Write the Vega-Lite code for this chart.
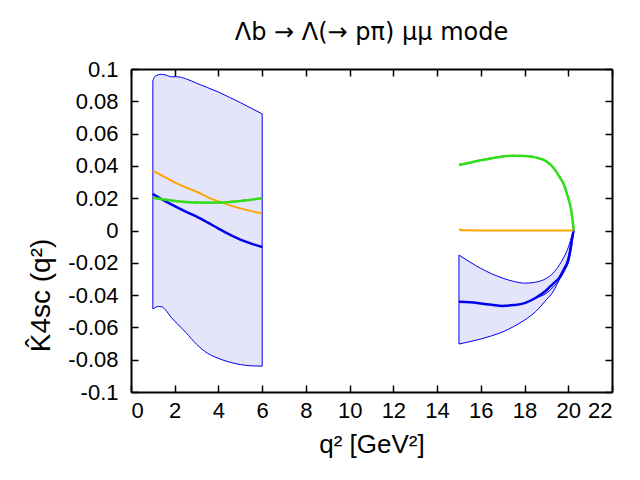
{
  "$schema": "https://vega.github.io/schema/vega-lite/v6.json",
  "description": "K4sc(q2) for Lambda_b -> Lambda(-> p pi) mu mu",
  "width": 481,
  "height": 323,
  "autosize": {"type": "none"},
  "padding": {"left": 131, "top": 69, "right": 28, "bottom": 88},
  "title": {
    "text": "Λb → Λ(→ pπ) μμ mode",
    "font": "DejaVu Sans",
    "fontSize": 24,
    "fontWeight": "normal",
    "color": "black",
    "anchor": "middle",
    "frame": "group",
    "baseline": "alphabetic",
    "offset": -6
  },
  "datasets": {
    "band": [
      {"seg": "low", "q": 1.0, "lo": -0.0486, "hi": 0.0928},
      {"seg": "low", "q": 1.1, "lo": -0.0478, "hi": 0.0955},
      {"seg": "low", "q": 1.25, "lo": -0.0470, "hi": 0.0964},
      {"seg": "low", "q": 1.4, "lo": -0.0472, "hi": 0.0967},
      {"seg": "low", "q": 1.6, "lo": -0.0495, "hi": 0.0962},
      {"seg": "low", "q": 1.85, "lo": -0.0540, "hi": 0.0952},
      {"seg": "low", "q": 2.1, "lo": -0.0575, "hi": 0.0952},
      {"seg": "low", "q": 2.5, "lo": -0.0630, "hi": 0.0940},
      {"seg": "low", "q": 3.0, "lo": -0.0705, "hi": 0.0912},
      {"seg": "low", "q": 3.5, "lo": -0.0760, "hi": 0.0885},
      {"seg": "low", "q": 4.0, "lo": -0.0792, "hi": 0.0857},
      {"seg": "low", "q": 4.5, "lo": -0.0815, "hi": 0.0825},
      {"seg": "low", "q": 5.0, "lo": -0.0830, "hi": 0.0792},
      {"seg": "low", "q": 5.5, "lo": -0.0838, "hi": 0.0757},
      {"seg": "low", "q": 6.0, "lo": -0.0840, "hi": 0.0722},
      {"seg": "high", "q": 15.0, "lo": -0.0703, "hi": -0.0152},
      {"seg": "high", "q": 15.5, "lo": -0.0688, "hi": -0.0195},
      {"seg": "high", "q": 16.0, "lo": -0.0672, "hi": -0.0235},
      {"seg": "high", "q": 16.5, "lo": -0.0652, "hi": -0.0268},
      {"seg": "high", "q": 17.0, "lo": -0.0628, "hi": -0.0295},
      {"seg": "high", "q": 17.5, "lo": -0.0595, "hi": -0.0315},
      {"seg": "high", "q": 18.0, "lo": -0.0555, "hi": -0.0326},
      {"seg": "high", "q": 18.5, "lo": -0.0503, "hi": -0.0320},
      {"seg": "high", "q": 19.0, "lo": -0.0428, "hi": -0.0296},
      {"seg": "high", "q": 19.3, "lo": -0.0380, "hi": -0.0265},
      {"seg": "high", "q": 19.6, "lo": -0.0300, "hi": -0.0212},
      {"seg": "high", "q": 19.8, "lo": -0.0235, "hi": -0.0165},
      {"seg": "high", "q": 20.0, "lo": -0.0160, "hi": -0.0105},
      {"seg": "high", "q": 20.1, "lo": -0.0090, "hi": -0.0062},
      {"seg": "high", "q": 20.2, "lo": -0.0030, "hi": -0.0018},
      {"seg": "high", "q": 20.25, "lo": 0.0, "hi": 0.0}
    ],
    "central": [
      {"seg": "low", "q": 1.0, "y": 0.0226},
      {"seg": "low", "q": 1.5, "y": 0.0187},
      {"seg": "low", "q": 2.0, "y": 0.0151},
      {"seg": "low", "q": 2.5, "y": 0.0117},
      {"seg": "low", "q": 3.0, "y": 0.0086},
      {"seg": "low", "q": 3.5, "y": 0.0050},
      {"seg": "low", "q": 4.0, "y": 0.0012},
      {"seg": "low", "q": 4.5, "y": -0.0024},
      {"seg": "low", "q": 5.0, "y": -0.0056},
      {"seg": "low", "q": 5.5, "y": -0.0081},
      {"seg": "low", "q": 6.0, "y": -0.0102},
      {"seg": "high", "q": 15.0, "y": -0.0441},
      {"seg": "high", "q": 15.5, "y": -0.0445},
      {"seg": "high", "q": 16.0, "y": -0.0452},
      {"seg": "high", "q": 16.5, "y": -0.0460},
      {"seg": "high", "q": 17.0, "y": -0.0467},
      {"seg": "high", "q": 17.5, "y": -0.0462},
      {"seg": "high", "q": 18.0, "y": -0.0450},
      {"seg": "high", "q": 18.5, "y": -0.0418},
      {"seg": "high", "q": 19.0, "y": -0.0370},
      {"seg": "high", "q": 19.3, "y": -0.0330},
      {"seg": "high", "q": 19.6, "y": -0.0290},
      {"seg": "high", "q": 19.8, "y": -0.0240},
      {"seg": "high", "q": 20.0, "y": -0.0185},
      {"seg": "high", "q": 20.1, "y": -0.0120},
      {"seg": "high", "q": 20.2, "y": -0.0030},
      {"seg": "high", "q": 20.25, "y": 0.0}
    ],
    "inner": [
      {"seg": "high", "q": 18.5, "y": -0.0418},
      {"seg": "high", "q": 19.0, "y": -0.0388},
      {"seg": "high", "q": 19.3, "y": -0.0352},
      {"seg": "high", "q": 19.6, "y": -0.0302},
      {"seg": "high", "q": 19.8, "y": -0.0258},
      {"seg": "high", "q": 20.0, "y": -0.0195},
      {"seg": "high", "q": 20.1, "y": -0.0135},
      {"seg": "high", "q": 20.2, "y": -0.0050},
      {"seg": "high", "q": 20.25, "y": 0.0}
    ],
    "orange": [
      {"seg": "low", "q": 1.0, "y": 0.0370},
      {"seg": "low", "q": 1.5, "y": 0.0333},
      {"seg": "low", "q": 2.0, "y": 0.0298},
      {"seg": "low", "q": 2.5, "y": 0.0267},
      {"seg": "low", "q": 3.0, "y": 0.0240},
      {"seg": "low", "q": 3.5, "y": 0.0207},
      {"seg": "low", "q": 4.0, "y": 0.0180},
      {"seg": "low", "q": 4.5, "y": 0.0157},
      {"seg": "low", "q": 5.0, "y": 0.0137},
      {"seg": "low", "q": 5.5, "y": 0.0120},
      {"seg": "low", "q": 6.0, "y": 0.0105},
      {"seg": "high", "q": 15.0, "y": 0.0008},
      {"seg": "high", "q": 15.2, "y": 0.0001},
      {"seg": "high", "q": 17.0, "y": 0.0},
      {"seg": "high", "q": 19.0, "y": 0.0},
      {"seg": "high", "q": 20.25, "y": 0.0}
    ],
    "green": [
      {"seg": "low", "q": 1.0, "y": 0.0203},
      {"seg": "low", "q": 1.5, "y": 0.0192},
      {"seg": "low", "q": 2.0, "y": 0.0183},
      {"seg": "low", "q": 2.5, "y": 0.0177},
      {"seg": "low", "q": 3.0, "y": 0.0173},
      {"seg": "low", "q": 3.5, "y": 0.0172},
      {"seg": "low", "q": 4.0, "y": 0.0173},
      {"seg": "low", "q": 4.5, "y": 0.0177},
      {"seg": "low", "q": 5.0, "y": 0.0183},
      {"seg": "low", "q": 5.5, "y": 0.0191},
      {"seg": "low", "q": 6.0, "y": 0.0200},
      {"seg": "high", "q": 15.0, "y": 0.0406},
      {"seg": "high", "q": 15.5, "y": 0.0420},
      {"seg": "high", "q": 16.0, "y": 0.0435},
      {"seg": "high", "q": 16.5, "y": 0.0448},
      {"seg": "high", "q": 17.0, "y": 0.0458},
      {"seg": "high", "q": 17.5, "y": 0.0463},
      {"seg": "high", "q": 18.0, "y": 0.0462},
      {"seg": "high", "q": 18.5, "y": 0.0453},
      {"seg": "high", "q": 19.0, "y": 0.0428},
      {"seg": "high", "q": 19.3, "y": 0.0392},
      {"seg": "high", "q": 19.6, "y": 0.0332},
      {"seg": "high", "q": 19.8, "y": 0.0285},
      {"seg": "high", "q": 20.0, "y": 0.0200},
      {"seg": "high", "q": 20.1, "y": 0.0150},
      {"seg": "high", "q": 20.2, "y": 0.0060},
      {"seg": "high", "q": 20.25, "y": 0.0}
    ]
  },
  "layer": [
    {
      "data": {"name": "band"},
      "mark": {"type": "area", "fill": "#e4e4fa", "stroke": "#0000ee", "strokeWidth": 1, "interpolate": "monotone"},
      "encoding": {
        "x": {
          "field": "q", "type": "quantitative",
          "scale": {"domain": [0, 22], "nice": false},
          "axis": {
            "orient": "bottom",
            "values": [0, 2, 4, 6, 8, 10, 12, 14, 16, 18, 20, 22],
            "labelPadding": 15,
            "title": "q² [GeV²]",
            "titleFontSize": 26,
            "titlePadding": 10
          }
        },
        "y": {
          "field": "lo", "type": "quantitative",
          "scale": {"domain": [-0.1, 0.1], "nice": false},
          "axis": {
            "orient": "left",
            "values": [-0.1, -0.08, -0.06, -0.04, -0.02, 0, 0.02, 0.04, 0.06, 0.08, 0.1],
            "labelExpr": "replace(format(datum.value, '~g'), '−', '-')",
            "labelPadding": 20,
            "title": "K̂4sc (q²)",
            "titleFontSize": 28,
            "titleAngle": -90,
            "titleAlign": "center",
            "titleBaseline": "alphabetic",
            "titleX": -82,
            "titleY": 226
          }
        },
        "y2": {"field": "hi"},
        "detail": {"field": "seg"}
      }
    },
    {
      "data": {"name": "inner"},
      "mark": {"type": "line", "color": "#0000ee", "strokeWidth": 1, "interpolate": "monotone"},
      "encoding": {
        "x": {"field": "q", "type": "quantitative", "axis": null},
        "y": {"field": "y", "type": "quantitative", "axis": null},
        "detail": {"field": "seg"}
      }
    },
    {
      "data": {"name": "central"},
      "mark": {"type": "line", "color": "#0000ee", "strokeWidth": 2.5, "interpolate": "monotone"},
      "encoding": {
        "x": {"field": "q", "type": "quantitative", "axis": null},
        "y": {"field": "y", "type": "quantitative", "axis": null},
        "detail": {"field": "seg"}
      }
    },
    {
      "data": {"name": "orange"},
      "mark": {"type": "line", "color": "#ffa500", "strokeWidth": 2, "interpolate": "monotone"},
      "encoding": {
        "x": {"field": "q", "type": "quantitative", "axis": null},
        "y": {"field": "y", "type": "quantitative", "axis": null},
        "detail": {"field": "seg"}
      }
    },
    {
      "data": {"name": "green"},
      "mark": {"type": "line", "color": "#ff5050", "strokeWidth": 2, "strokeDash": [3, 3], "interpolate": "monotone"},
      "encoding": {
        "x": {"field": "q", "type": "quantitative", "axis": null},
        "y": {"field": "y", "type": "quantitative", "axis": null},
        "detail": {"field": "seg"}
      }
    },
    {
      "data": {"name": "green"},
      "mark": {"type": "line", "color": "#2ee01a", "strokeWidth": 2.5, "interpolate": "monotone"},
      "encoding": {
        "x": {"field": "q", "type": "quantitative", "axis": null},
        "y": {"field": "y", "type": "quantitative", "axis": null},
        "detail": {"field": "seg"}
      }
    },
    {
      "data": {"name": "band"},
      "mark": {"type": "point", "opacity": 0},
      "encoding": {
        "x": {
          "field": "q", "type": "quantitative",
          "axis": {"orient": "top", "values": [0, 2, 4, 6, 8, 10, 12, 14, 16, 18, 20, 22], "labels": false, "title": null}
        },
        "y": {
          "field": "lo", "type": "quantitative",
          "axis": {"orient": "right", "values": [-0.1, -0.08, -0.06, -0.04, -0.02, 0, 0.02, 0.04, 0.06, 0.08, 0.1], "labels": false, "title": null}
        }
      }
    }
  ],
  "resolve": {"axis": {"x": "independent", "y": "independent"}},
  "config": {
    "view": {"stroke": null},
    "axis": {
      "grid": false,
      "domainColor": "black",
      "domainWidth": 2,
      "tickColor": "black",
      "tickWidth": 1.5,
      "tickSize": -7,
      "labelFont": "Liberation Sans",
      "labelFontSize": 22,
      "labelColor": "black",
      "titleFont": "Liberation Sans",
      "titleFontWeight": "normal",
      "titleColor": "black"
    }
  }
}
